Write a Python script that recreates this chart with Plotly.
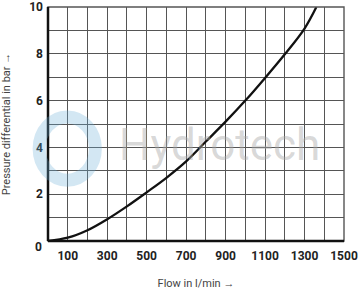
import plotly.graph_objects as go

flow = [0, 100, 200, 300, 400, 500, 600, 700, 800, 900, 1000, 1100, 1200, 1300, 1360]
pressure = [0, 0.14, 0.46, 0.93, 1.48, 2.08, 2.7, 3.4, 4.25, 5.1, 6.0, 6.97, 7.98, 9.08, 10]

x_ticks = [100, 300, 500, 700, 900, 1100, 1300, 1500]
y_ticks = [2, 4, 6, 8, 10]

tick_font = dict(family="Roboto", size=12, color="#222", weight="bold")
title_font = dict(family="Roboto", size=11, color="#444")

fig = go.Figure()
fig.add_trace(go.Scatter(x=flow, y=pressure, mode="lines",
                         line=dict(color="#111", width=2.3, shape="spline", smoothing=1.0),
                         hoverinfo="skip", showlegend=False))

fig.update_layout(
    width=358, height=290,
    margin=dict(l=48, r=14, t=7, b=49),
    paper_bgcolor="white", plot_bgcolor="white",
    xaxis=dict(range=[0, 1500], tickvals=x_ticks, ticktext=[str(v) for v in x_ticks],
               tickfont=tick_font, showgrid=True, gridcolor="#555", gridwidth=1.4,
               showline=False, zeroline=False, ticks="", automargin=False,
               ticklabelstandoff=6,
               minor=dict(showgrid=True, gridcolor="#555", gridwidth=1.4, dtick=100, tick0=0),
               title=dict(text="Flow in l/min \u2192", font=title_font, standoff=18),
               fixedrange=True),
    yaxis=dict(range=[0, 10], tickvals=y_ticks, tickfont=tick_font, showgrid=True,
               gridcolor="#555", gridwidth=1.4, showline=False, zeroline=False, ticks="",
               automargin=False, ticklabelstandoff=4,
               minor=dict(showgrid=True, gridcolor="#555", gridwidth=1.4, dtick=1, tick0=0),
               title=dict(text="Pressure differential in bar \u2192", font=title_font, standoff=18),
               fixedrange=True),
    shapes=[
        dict(type="rect", xref="paper", yref="paper", x0=0, x1=1, y0=0, y1=1,
             line=dict(color="#555", width=1.4), layer="above"),
        dict(type="line", xref="paper", yref="paper", x0=0, x1=0, y0=0, y1=1,
             line=dict(color="#111", width=2.5), layer="above"),
        dict(type="line", xref="paper", yref="paper", x0=0, x1=1, y0=0, y1=0,
             line=dict(color="#111", width=2.5), layer="above"),
        dict(type="circle", xref="paper", yref="paper", x0=-0.03, x1=0.16, y0=0.26, y1=0.53,
             line=dict(color="rgba(110,175,215,0.30)", width=13), layer="above"),
    ],
    annotations=[
        dict(text="0", xref="x", yref="paper", x=0, y=0, xshift=-10, yshift=-15,
             showarrow=False, font=tick_font),
        dict(text="Hydrotech", xref="paper", yref="paper", x=0.58, y=0.41,
             showarrow=False, font=dict(family="Roboto", size=44, color="rgba(170,170,170,0.45)")),
    ],
)

fig.write_html("out.html", config=dict(displayModeBar=False))
